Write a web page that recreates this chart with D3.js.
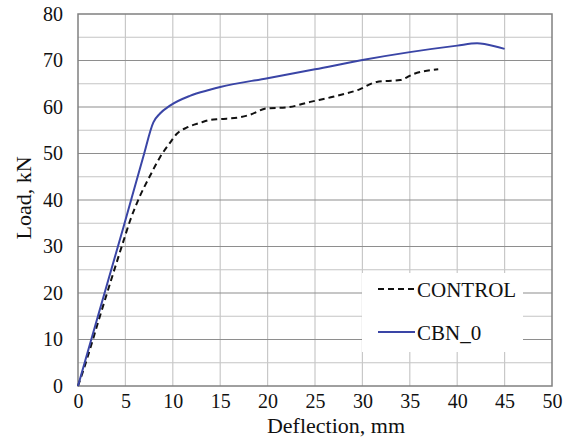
<!DOCTYPE html>
<html>
<head>
<meta charset="utf-8">
<script src="https://cdn.jsdelivr.net/npm/d3@7"></script>
<style>
  body { margin: 0; background: #fff; }
  text { font-family: "Liberation Serif", "Times New Roman", serif; }
</style>
</head>
<body>
<div id="chart"></div>
<script>
// Data
var controlDefl = [0, 0.6, 2.4, 4.8, 5.5, 6.5, 7.6, 8.65, 9.7, 10.4, 11.5, 12.9, 13.9, 15, 17.1, 18.1, 19.9, 22, 24.5, 26.9, 29.7, 31.5, 34, 35.4, 38];
var controlLoad = [0, 3.6, 15.6, 31.2, 35.6, 40.7, 45.2, 49.2, 52.3, 54.2, 55.6, 56.6, 57.2, 57.4, 57.8, 58.3, 59.7, 59.9, 61.1, 62.2, 63.8, 65.4, 65.8, 67.1, 68.1];
var cbnDefl = [0, 2.1, 4.8, 6.9, 7.95, 8.65, 9.7, 11.8, 13.9, 15, 20, 25, 30, 35, 40, 42.1, 43, 45];
var cbnLoad = [0, 15, 34.2, 49.4, 56.7, 58.6, 60.3, 62.4, 63.7, 64.3, 66.2, 68.1, 70.1, 71.8, 73.2, 73.7, 73.5, 72.5];
var xTicks = [0, 5, 10, 15, 20, 25, 30, 35, 40, 45, 50];
var yTicks = [0, 10, 20, 30, 40, 50, 60, 70, 80];
var seriesNames = ["CONTROL", "CBN_0"];

var svgWidth = 570;
var svgHeight = 440;
var margin = { top: 14, right: 18, bottom: 54, left: 78 };
var width = svgWidth - margin.left - margin.right;
var height = svgHeight - margin.top - margin.bottom;

var svg = d3.select("#chart")
  .append("svg")
  .attr("width", svgWidth)
  .attr("height", svgHeight);

var chartGroup = svg.append("g")
  .attr("transform", `translate(${margin.left}, ${margin.top})`);

var x = d3.scaleLinear().domain([0, 50]).range([0, width]);
var y = d3.scaleLinear().domain([0, 80]).range([height, 0]);

// Minor horizontal grid (every 5)
chartGroup.append("g")
  .selectAll("line")
  .data(d3.range(5, 80, 10))
  .enter()
  .append("line")
  .attr("x1", 0).attr("x2", width)
  .attr("y1", d => y(d)).attr("y2", d => y(d))
  .attr("stroke", "#c4c4c4")
  .attr("stroke-width", 1.2);

// Vertical grid
chartGroup.append("g")
  .selectAll("line")
  .data(xTicks.slice(1, -1))
  .enter()
  .append("line")
  .attr("x1", d => x(d)).attr("x2", d => x(d))
  .attr("y1", 0).attr("y2", height)
  .attr("stroke", "#c8c8c8")
  .attr("stroke-width", 1.2);

// Major horizontal grid
chartGroup.append("g")
  .selectAll("line")
  .data(yTicks.slice(1, -1))
  .enter()
  .append("line")
  .attr("x1", 0).attr("x2", width)
  .attr("y1", d => y(d)).attr("y2", d => y(d))
  .attr("stroke", "#8e8e8e")
  .attr("stroke-width", 1.2);

// Plot border
chartGroup.append("rect")
  .attr("width", width)
  .attr("height", height)
  .attr("fill", "none")
  .attr("stroke", "#808080")
  .attr("stroke-width", 1.5);

// Axes (labels only)
var bottomAxis = d3.axisBottom(x).tickValues(xTicks).tickSize(0).tickPadding(8);
var leftAxis = d3.axisLeft(y).tickValues(yTicks).tickSize(0).tickPadding(15);

var gx = chartGroup.append("g")
  .attr("transform", `translate(0, ${height})`)
  .call(bottomAxis);
var gy = chartGroup.append("g").call(leftAxis);
[gx, gy].forEach(function(g) {
  g.select(".domain").remove();
  g.selectAll("text")
    .attr("font-size", "20px")
    .attr("fill", "#111");
});

// Lines
var line = d3.line()
  .x(d => x(d[0]))
  .y(d => y(d[1]))
  .curve(d3.curveMonotoneX);

chartGroup.append("path")
  .datum(controlDefl.map((d, i) => [d, controlLoad[i]]))
  .attr("fill", "none")
  .attr("stroke", "#111")
  .attr("stroke-width", 2)
  .attr("stroke-dasharray", "6,4")
  .attr("d", line);

chartGroup.append("path")
  .datum(cbnDefl.map((d, i) => [d, cbnLoad[i]]))
  .attr("fill", "none")
  .attr("stroke", "#3a45a6")
  .attr("stroke-width", 2)
  .attr("d", line);

// Legend
var legend = svg.append("g");
legend.append("rect")
  .attr("x", 362).attr("y", 273)
  .attr("width", 161).attr("height", 79)
  .attr("fill", "#fff");

var legendItems = [
  { name: seriesNames[0], color: "#111", dash: "6,4", y: 289 },
  { name: seriesNames[1], color: "#3a45a6", dash: null, y: 332 }
];
legendItems.forEach(function(item) {
  legend.append("line")
    .attr("x1", 378).attr("x2", 415)
    .attr("y1", item.y).attr("y2", item.y)
    .attr("stroke", item.color)
    .attr("stroke-width", 2)
    .attr("stroke-dasharray", item.dash);
  legend.append("text")
    .attr("x", 417)
    .attr("y", item.y + 8)
    .attr("font-size", "21px")
    .attr("fill", "#111")
    .text(item.name);
});

// Axis titles
svg.append("text")
  .attr("transform", "rotate(-90)")
  .attr("x", -198)
  .attr("y", 31)
  .attr("font-size", "22px")
  .attr("fill", "#111")
  .style("text-anchor", "middle")
  .text("Load, kN");

svg.append("text")
  .attr("x", 336)
  .attr("y", 433)
  .attr("font-size", "22px")
  .attr("fill", "#111")
  .style("text-anchor", "middle")
  .text("Deflection, mm");
</script>
</body>
</html>
